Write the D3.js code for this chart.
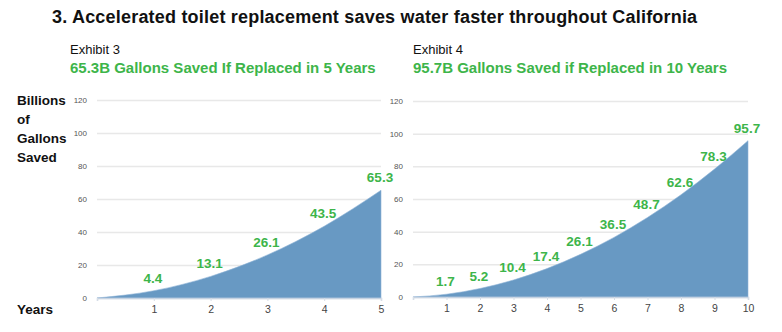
<!DOCTYPE html>
<html>
<head>
<meta charset="utf-8">
<script src="https://cdn.jsdelivr.net/npm/d3@7"></script>
<style>
  body { margin: 0; background: #fff; }
  svg { display: block; font-family: "Liberation Sans", Arial, sans-serif; }
</style>
</head>
<body>
<svg width="782" height="332"></svg>
<script>
// savings by year, billions of gallons
const years5 = [0, 1, 2, 3, 4, 5];
const saved5 = [0, 4.4, 13.1, 26.1, 43.5, 65.3];
const years10 = [0, 1, 2, 3, 4, 5, 6, 7, 8, 9, 10];
const saved10 = [0, 1.7, 5.2, 10.4, 17.4, 26.1, 36.5, 48.7, 62.6, 78.3, 95.7];
const yTicks = [0, 20, 40, 60, 80, 100, 120];

const green = "#3db54a";
const fill = "#6899c3";

const svg = d3.select("svg");

svg.append("text")
  .attr("x", 52).attr("y", 23)
  .attr("font-size", 18).attr("font-weight", "bold").attr("fill", "#111")
  .attr("letter-spacing", 0.2)
  .text("3. Accelerated toilet replacement saves water faster throughout California");

// axis title on the left
const ylab = svg.append("text")
  .attr("font-size", 13.5).attr("font-weight", "bold").attr("fill", "#111");
["Billions", "of", "Gallons", "Saved"].forEach((t, i) => {
  ylab.append("tspan").attr("x", 17).attr("y", 105 + i * 19).text(t);
});
svg.append("text")
  .attr("x", 17).attr("y", 314)
  .attr("font-size", 13.5).attr("font-weight", "bold").attr("fill", "#111")
  .text("Years");

function drawChart(opt) {
  const { years, saved, x0, x1, yTop, yBottom, labelX, exhibit, heading } = opt;

  const x = d3.scaleLinear().domain([0, d3.max(years)]).range([x0, x1]);
  const y = d3.scaleLinear().domain([0, 120]).range([yBottom, yTop]);

  svg.append("text")
    .attr("x", labelX).attr("y", 54)
    .attr("font-size", 13).attr("fill", "#111")
    .text(exhibit);
  svg.append("text")
    .attr("x", labelX).attr("y", 73)
    .attr("font-size", 15).attr("font-weight", "bold").attr("fill", green)
    .text(heading);

  const g = svg.append("g");

  // gridlines + y labels
  const yAxis = d3.axisLeft(y).tickValues(yTicks).tickSize(-(x1 - x0)).tickPadding(10);
  const ya = g.append("g").attr("transform", `translate(${x0},0)`).call(yAxis);
  ya.select(".domain").remove();
  ya.selectAll(".tick line").attr("stroke", "#e8e8e8").attr("stroke-width", 1.5);
  ya.selectAll(".tick text")
    .attr("font-size", 8).attr("fill", "#555")
    .attr("font-family", "'Liberation Sans', Arial, sans-serif");

  const pts = years.map((d, i) => [d, saved[i]]);
  const area = d3.area()
    .x(d => x(d[0]))
    .y0(y(0))
    .y1(d => y(d[1]))
    .curve(d3.curveMonotoneX);

  g.append("path")
    .datum(pts)
    .attr("d", area)
    .attr("fill", fill)
    .attr("stroke", "#8fb3d6").attr("stroke-width", 0.6);

  // x axis
  const xAxis = d3.axisBottom(x).tickValues(years).tickSize(3).tickPadding(5)
    .tickFormat(d => d === 0 ? "" : d);
  const xa = g.append("g").attr("transform", `translate(0,${y(0)})`).call(xAxis);
  xa.select(".domain").attr("stroke", "#c6d3e2").attr("stroke-width", 1.5);
  xa.selectAll(".tick line").attr("stroke", "#d6dde6");
  xa.selectAll(".tick text")
    .attr("font-size", 10.5).attr("fill", "#444")
    .attr("font-family", "'Liberation Sans', Arial, sans-serif");

  // value labels
  g.selectAll(".val")
    .data(pts.slice(1))
    .join("text")
    .attr("class", "val")
    .attr("x", d => x(d[0]) - 1)
    .attr("y", d => y(d[1]) - 8)
    .attr("text-anchor", "middle")
    .attr("font-size", 13.5).attr("font-weight", "bold").attr("fill", green)
    .text(d => d[1].toFixed(1));
}

drawChart({
  years: years5, saved: saved5,
  x0: 97, x1: 381, yTop: 100, yBottom: 298,
  labelX: 70,
  exhibit: "Exhibit 3",
  heading: "65.3B Gallons Saved If Replaced in 5 Years"
});

drawChart({
  years: years10, saved: saved10,
  x0: 413, x1: 748, yTop: 101, yBottom: 297,
  labelX: 413,
  exhibit: "Exhibit 4",
  heading: "95.7B Gallons Saved if Replaced in 10 Years"
});
</script>
</body>
</html>
